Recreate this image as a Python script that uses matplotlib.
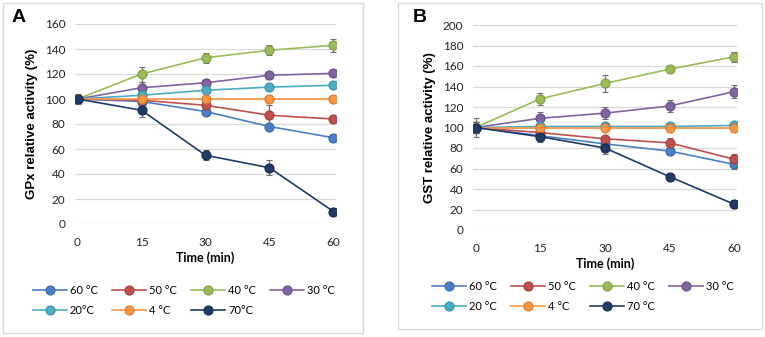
import numpy as np
import matplotlib
matplotlib.use("Agg")
import matplotlib.pyplot as plt
from matplotlib.patches import Rectangle
from matplotlib.lines import Line2D

# ==========================================
# data
# ==========================================
time_min = [0, 15, 30, 45, 60]

legend_a = ["60 °C", "50 °C", "40 °C", "30 °C", "20°C", "4 °C", "70°C"]
legend_b = ["60 °C", "50 °C", "40 °C", "30 °C", "20 °C", "4 °C", "70 °C"]

# GPx (panel A)
gpx_60 = [100, 98, 90, 78, 69]
gpx_50 = [100, 99, 95, 87, 84]
gpx_40 = [100, 120, 133, 139, 143]
gpx_30 = [100, 109, 113, 119, 120.5]
gpx_20 = [100, 103, 107, 109.5, 111]
gpx_4 = [100, 100, 100, 100, 100]
gpx_70 = [100, 91, 55, 45, 10]

gpx_err_60 = [3, 2, 2, 2, 2]
gpx_err_50 = [3, 2, 3, 8, 2]
gpx_err_40 = [3, 6, 4, 4, 5]
gpx_err_30 = [3, 5, 3, 3, 2]
gpx_err_20 = [3, 2, 2, 2, 2]
gpx_err_4 = [3, 2, 2, 2, 2]
gpx_err_70 = [4, 5, 4, 6, 3]

# GST (panel B)
gst_60 = [100, 92, 84, 77, 64]
gst_50 = [100, 95, 89, 85, 69]
gst_40 = [100, 128, 143, 157, 169]
gst_30 = [100, 109, 114, 121, 135]
gst_20 = [100, 101, 101, 101, 102]
gst_4 = [100, 100, 100, 100, 100]
gst_70 = [100, 91, 80, 52, 25]

gst_err_60 = [5, 3, 3, 4, 4]
gst_err_50 = [5, 3, 3, 5, 5]
gst_err_40 = [5, 6, 8, 3, 5]
gst_err_30 = [5, 6, 6, 6, 6]
gst_err_20 = [5, 2, 2, 2, 2]
gst_err_4 = [5, 2, 2, 2, 2]
gst_err_70 = [9, 5, 6, 3, 4]

colors = ["#4A7EC6", "#C0504D", "#9BBB59", "#8064A2", "#4BACC6", "#F79646", "#1F3B66"]
edges = ["#3A66A6", "#A03E3B", "#7E9C45", "#654E85", "#3A8FA8", "#D97A30", "#152A4A"]

plt.rcParams['font.family'] = ['Lato', 'DejaVu Sans']

fig = plt.figure(figsize=(7.65, 3.37), dpi=100)

# panel frames
fig.patches.append(Rectangle((3 / 765, 1 - 333 / 337), 360 / 765, 330 / 337,
                             transform=fig.transFigure, fill=False,
                             edgecolor="#d9d9d9", lw=1.0))
fig.patches.append(Rectangle((398 / 765, 1 - 329 / 337), 364 / 765, 326 / 337,
                             transform=fig.transFigure, fill=False,
                             edgecolor="#d9d9d9", lw=1.0))


def draw_panel(ax, ys, errs, ymax, ylabel):
    for y, e, c, ec in zip(ys, errs, colors, edges):
        ax.errorbar(time_min, y, yerr=e, color=c, lw=1.2, marker='o', ms=6.5,
                    mfc=c, mec=ec, mew=0.8, ecolor="#6e6e6e", elinewidth=0.9,
                    capsize=2.5, capthick=0.9)
    ax.set_xlim(-0.6, 60.6)
    ax.set_ylim(0, ymax)
    ax.set_xticks(time_min)
    ax.set_yticks(np.arange(0, ymax + 1, 20))
    ax.grid(axis='y', color="#d9d9d9", lw=0.9)
    ax.set_axisbelow(True)
    for s in ax.spines.values():
        s.set_visible(False)
    ax.tick_params(length=0, labelsize=8.5, colors="#222222")
    ax.tick_params(axis='x', pad=9)
    ax.tick_params(axis='y', pad=7)
    ax.set_ylabel(ylabel, fontsize=9.5, fontweight='bold',
                  family=['Liberation Sans', 'DejaVu Sans'], labelpad=5)
    ax.set_xlabel("Time (min)", fontsize=9, fontweight='bold', labelpad=3)


ax_a = fig.add_axes([75 / 765, 1 - 224 / 337, 261 / 765, 200 / 337])
draw_panel(ax_a,
           [gpx_60, gpx_50, gpx_40, gpx_30, gpx_20, gpx_4, gpx_70],
           [gpx_err_60, gpx_err_50, gpx_err_40, gpx_err_30, gpx_err_20, gpx_err_4, gpx_err_70],
           160, "GPx relative activity (%)")

ax_b = fig.add_axes([473 / 765, 1 - 230 / 337, 264 / 765, 205 / 337])
draw_panel(ax_b,
           [gst_60, gst_50, gst_40, gst_30, gst_20, gst_4, gst_70],
           [gst_err_60, gst_err_50, gst_err_40, gst_err_30, gst_err_20, gst_err_4, gst_err_70],
           200, "GST relative activity (%)")

fig.text(12 / 765, 1 - 18 / 337, "A", fontsize=14, fontweight='bold',
         family=['Liberation Sans', 'DejaVu Sans'], va='center')
fig.text(413 / 765, 1 - 18 / 337, "B", fontsize=14, fontweight='bold',
         family=['Liberation Sans', 'DejaVu Sans'], va='center')

# legends, row-wise order for 4 columns
order = [0, 4, 1, 5, 2, 6, 3]
for labels, cx, cy in [(legend_a, 184 / 765, 1 - 300.5 / 337), (legend_b, 583 / 765, 1 - 296.5 / 337)]:
    handles = [Line2D([], [], color=colors[i], lw=1.2, marker='o', ms=6.5,
                      mfc=colors[i], mec=edges[i], mew=0.8) for i in order]
    fig.legend(handles, [labels[i] for i in order], ncol=4, loc='center',
               bbox_to_anchor=(cx, cy), frameon=False, fontsize=8,
               handlelength=3.0, handletextpad=0.3, columnspacing=1.3,
               labelspacing=0.85)

fig.savefig("out.png", dpi=100)
